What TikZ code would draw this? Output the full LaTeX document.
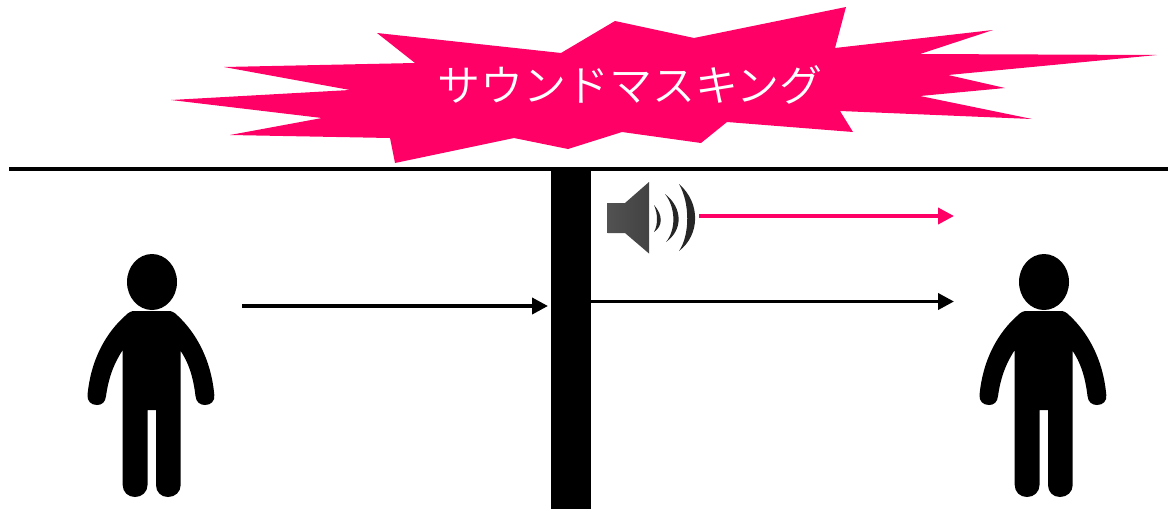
\documentclass[tikz,border=0pt]{standalone}
\usepackage{fontspec}
\newfontfamily\cjk{Noto Sans CJK JP DemiLight}
\definecolor{burst}{HTML}{FF0066}
\usetikzlibrary{arrows.meta}
\tikzset{
  x=1pt,y=-1pt,
  flow/.style={line width=3.8pt,-{Triangle[length=16pt,width=16pt,sep=0pt]}},
  figure/.style={fill=black,draw=none},
  wave/.style={fill=black!85,draw=none},
  person/.pic={
    \fill[figure] (152,282) ellipse [x radius=25,y radius=28];
    \fill[figure]
      (135,311) -- (168,311)
      .. controls (172,311) and (174,312) .. (178,316)
      .. controls (195,332) and (211,358) .. (214.3,395)
      .. controls (215,401) and (211,405) .. (205,405)
      .. controls (200,405) and (196,402) .. (195.5,396)
      .. controls (193,375) and (188,362) .. (180.7,351)
      -- (180.7,485)
      .. controls (180.7,492) and (175,497) .. (168,497)
      .. controls (161,497) and (156,492) .. (156,485)
      -- (156,410) -- (147.5,410) -- (147.5,485)
      .. controls (147.5,492) and (142,497) .. (135,497)
      .. controls (128,497) and (122.7,492) .. (122.7,485)
      -- (122.7,350)
      .. controls (115,362) and (109,375) .. (106,396)
      .. controls (105.5,402) and (102,405) .. (97,405)
      .. controls (91,405) and (87,401) .. (87.5,395)
      .. controls (91,358) and (107,332) .. (125,316)
      .. controls (129,312) and (131,311) .. (135,311) -- cycle;
  }
}
\begin{document}
\begin{tikzpicture}
\useasboundingbox (0,0) rectangle (1174,517);
% burst
\fill[burst] (377,33) -- (561,53) -- (615,21) -- (694,38) -- (846,7) -- (835,48) -- (993,30) -- (920,54) -- (1157,55) -- (948,75) -- (1005,88) -- (920,96) -- (1032,119) -- (840,111) -- (853,132) -- (727,122) -- (701,143) -- (622,132) -- (568,149) -- (514,138) -- (395,163) -- (390,138) -- (230,135) -- (322,118) -- (171,100) -- (350,90) -- (224,67) -- (415,63) -- cycle;
\node[text=white,font=\cjk\fontsize{43}{43}\selectfont,inner sep=0pt] (title) at (630,85) {サウンドマスキング};
% ground line and wall
\coordinate (lineL) at (9,168.5);
\coordinate (lineR) at (1168,168.5);
\draw[line width=4pt] (lineL) -- (lineR);
\fill[black] (551,168) rectangle (591,509);
% people
\pic (left) at (0,0) {person};
\pic (right) at (892,0) {person};
% connectors
\coordinate (a1) at (242,306); \coordinate (a2) at (548,306);
\coordinate (b1) at (591,301.5); \coordinate (b2) at (954,301.5);
\coordinate (c1) at (699,216); \coordinate (c2) at (954,216);
\draw[flow] (a1) -- (a2);
\draw[flow] (b1) -- (b2);
\draw[flow,burst] (c1) -- (c2);
% speaker
\shade[left color=black!68,right color=black!74]
  (607.5,203) -- (625,203) -- (649,182) -- (649,253.5) -- (625,233) -- (607.5,233) -- cycle;
\fill[wave] (654,205) .. controls (663,215) and (663,226) .. (654,232)
  .. controls (658,225) and (658,214) .. (654,205) -- cycle;
\fill[wave] (665,194) .. controls (683,208) and (683,230) .. (666,242)
  .. controls (676,230) and (676,208) .. (665,194) -- cycle;
\fill[wave] (679,184) .. controls (701,203) and (700,235) .. (679,251)
  .. controls (690,235) and (690,203) .. (679,184) -- cycle;
\end{tikzpicture}
\end{document}
